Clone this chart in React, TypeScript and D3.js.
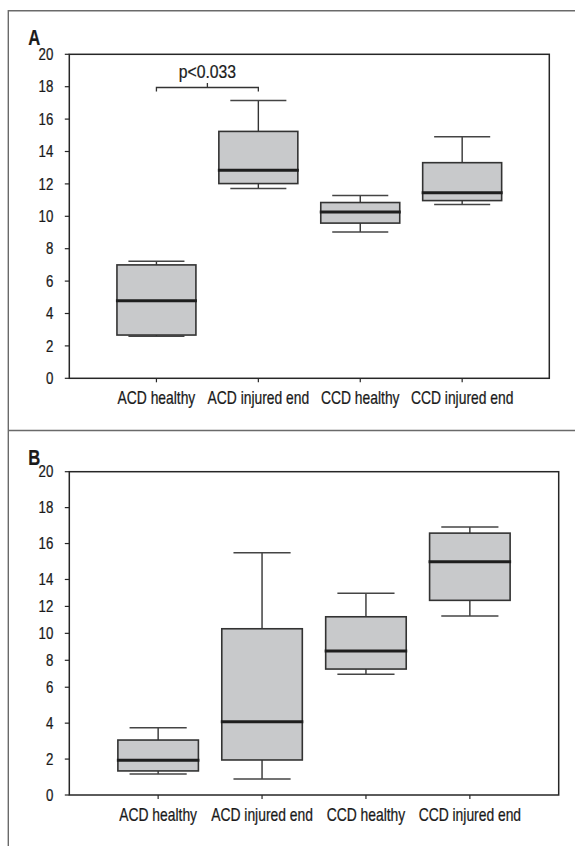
import React from "react";
import * as d3 from "d3";

const categories = ["ACD healthy", "ACD injured end", "CCD healthy", "CCD injured end"];
const yTicks = [0, 2, 4, 6, 8, 10, 12, 14, 16, 18, 20];

// Panel A box statistics
const aLow = [2.6, 11.71, 9.03, 10.73];
const aQ1 = [2.67, 12.02, 9.58, 10.97];
const aMedian = [4.79, 12.84, 10.26, 11.45];
const aQ3 = [7.0, 15.24, 10.85, 13.31];
const aHigh = [7.22, 17.15, 11.28, 14.91];

// Panel B box statistics
const bLow = [1.17, 0.89, 6.96, 11.28];
const bQ1 = [1.34, 1.95, 7.35, 12.45];
const bMedian = [1.93, 4.08, 8.69, 14.99];
const bQ3 = [3.06, 10.34, 11.23, 16.58];
const bHigh = [3.75, 15.49, 12.97, 16.92];

// significance annotation (panel A)
const sigPair = [0, 1];
const sigLevel = 17.95;
const sigLabel = "p<0.033";

const FONT = "'Liberation Sans', Arial, sans-serif";
const BOX_FILL = "#c8c9cb";
const DARK = "#262626";

function NText(props: {
  x: number;
  y: number;
  size: number;
  sx: number;
  anchor?: string;
  bold?: boolean;
  dy?: string;
  children: React.ReactNode;
}) {
  return (
    <text
      transform={`translate(${props.x},${props.y}) scale(${props.sx},1)`}
      dy={props.dy}
      textAnchor={props.anchor || "start"}
      fontFamily={FONT}
      fontWeight={props.bold ? "bold" : "normal"}
      fontSize={props.size}
      fill="#1a1a1a"
      stroke="#1a1a1a"
      strokeWidth={0.25}
    >
      {props.children}
    </text>
  );
}

type PanelProps = {
  letter: string;
  left: number;
  right: number;
  top: number;
  bottom: number;
  low: number[];
  q1: number[];
  median: number[];
  q3: number[];
  high: number[];
  piecewise?: boolean;
  sig?: boolean;
  letterGap: number;
};

function Panel(p: PanelProps) {
  const h = p.bottom - p.top;
  const y = p.piecewise
    ? d3.scaleLinear().domain([0, 6, 14, 20]).range([p.bottom, p.bottom - h / 3, p.bottom - (2 * h) / 3, p.top])
    : d3.scaleLinear().domain([0, 20]).range([p.bottom, p.top]);
  const x = d3.scalePoint<string>().domain(categories).range([p.left, p.right]).padding(0.855);
  const step = x.step();
  const boxW = step * 0.775;
  const capW = step * 0.55;
  const sx0 = x(categories[sigPair[0]])!;
  const sx1 = x(categories[sigPair[1]])!;
  const sy = y(sigLevel);

  return (
    <g>
      <NText x={p.left - 41} y={p.top - p.letterGap} size={22.5} sx={0.74} bold>
        {p.letter}
      </NText>
      {/* y ticks */}
      {yTicks.map((t) => (
        <g key={"yt" + t}>
          <line x1={p.left - 4.5} x2={p.left} y1={y(t)} y2={y(t)} stroke={DARK} strokeWidth={1.2} />
          <NText x={p.left - 16} y={y(t)} dy="0.36em" anchor="end" size={16} sx={0.83}>
            {t}
          </NText>
        </g>
      ))}
      {/* x ticks */}
      {categories.map((c) => (
        <g key={"xt" + c}>
          <line x1={x(c)!} x2={x(c)!} y1={p.bottom} y2={p.bottom + 4} stroke={DARK} strokeWidth={1.2} />
          <NText x={x(c)!} y={p.bottom + 25.5} anchor="middle" size={18} sx={0.77}>
            {c}
          </NText>
        </g>
      ))}
      {/* boxes */}
      {categories.map((c, i) => {
        const cx = x(c)!;
        return (
          <g key={"box" + c}>
            <line x1={cx} x2={cx} y1={y(p.high[i])} y2={y(p.q3[i])} stroke="#333" strokeWidth={1.4} />
            <line x1={cx} x2={cx} y1={y(p.low[i])} y2={y(p.q1[i])} stroke="#333" strokeWidth={1.4} />
            <line
              x1={cx - capW / 2}
              x2={cx + capW / 2}
              y1={y(p.high[i])}
              y2={y(p.high[i])}
              stroke="#444"
              strokeWidth={1.5}
            />
            <line
              x1={cx - capW / 2}
              x2={cx + capW / 2}
              y1={y(p.low[i])}
              y2={y(p.low[i])}
              stroke="#444"
              strokeWidth={1.5}
            />
            <rect
              x={cx - boxW / 2}
              y={y(p.q3[i])}
              width={boxW}
              height={y(p.q1[i]) - y(p.q3[i])}
              fill={BOX_FILL}
              stroke="#333"
              strokeWidth={1.6}
            />
            <line
              x1={cx - boxW / 2 - 1}
              x2={cx + boxW / 2 + 1}
              y1={y(p.median[i])}
              y2={y(p.median[i])}
              stroke="#1e1e1e"
              strokeWidth={3}
            />
          </g>
        );
      })}
      {/* frame */}
      <rect
        x={p.left}
        y={p.top}
        width={p.right - p.left}
        height={p.bottom - p.top}
        fill="none"
        stroke={DARK}
        strokeWidth={1.5}
      />
      {p.sig && (
        <g>
          <path
            d={`M${sx0},${sy + 4}V${sy}H${sx1}V${sy + 4}M${(sx0 + sx1) / 2},${sy}v-4.5`}
            fill="none"
            stroke="#333"
            strokeWidth={1.3}
          />
          <NText x={(sx0 + sx1) / 2} y={sy - 9.5} anchor="middle" size={19} sx={0.83}>
            {sigLabel}
          </NText>
        </g>
      )}
    </g>
  );
}

export default function App() {
  return (
    <svg width={575} height={846} style={{ position: "absolute", left: 0, top: 0, background: "#fff" }}>
      <rect width={575} height={846} fill="#fff" />
      {/* outer figure frame */}
      <path d="M575,10.7H8.3V846M8.3,430.5H575" fill="none" stroke="#6a6a6a" strokeWidth={1.4} />
      <Panel
        letter="A"
        left={69.3}
        right={549.3}
        top={54.3}
        bottom={378.3}
        low={aLow}
        q1={aQ1}
        median={aMedian}
        q3={aQ3}
        high={aHigh}
        sig
        letterGap={9}
      />
      <Panel
        letter="B"
        left={69.3}
        right={558.7}
        top={471.7}
        bottom={795}
        low={bLow}
        q1={bQ1}
        median={bMedian}
        q3={bQ3}
        high={bHigh}
        piecewise
        letterGap={6.5}
      />
    </svg>
  );
}
